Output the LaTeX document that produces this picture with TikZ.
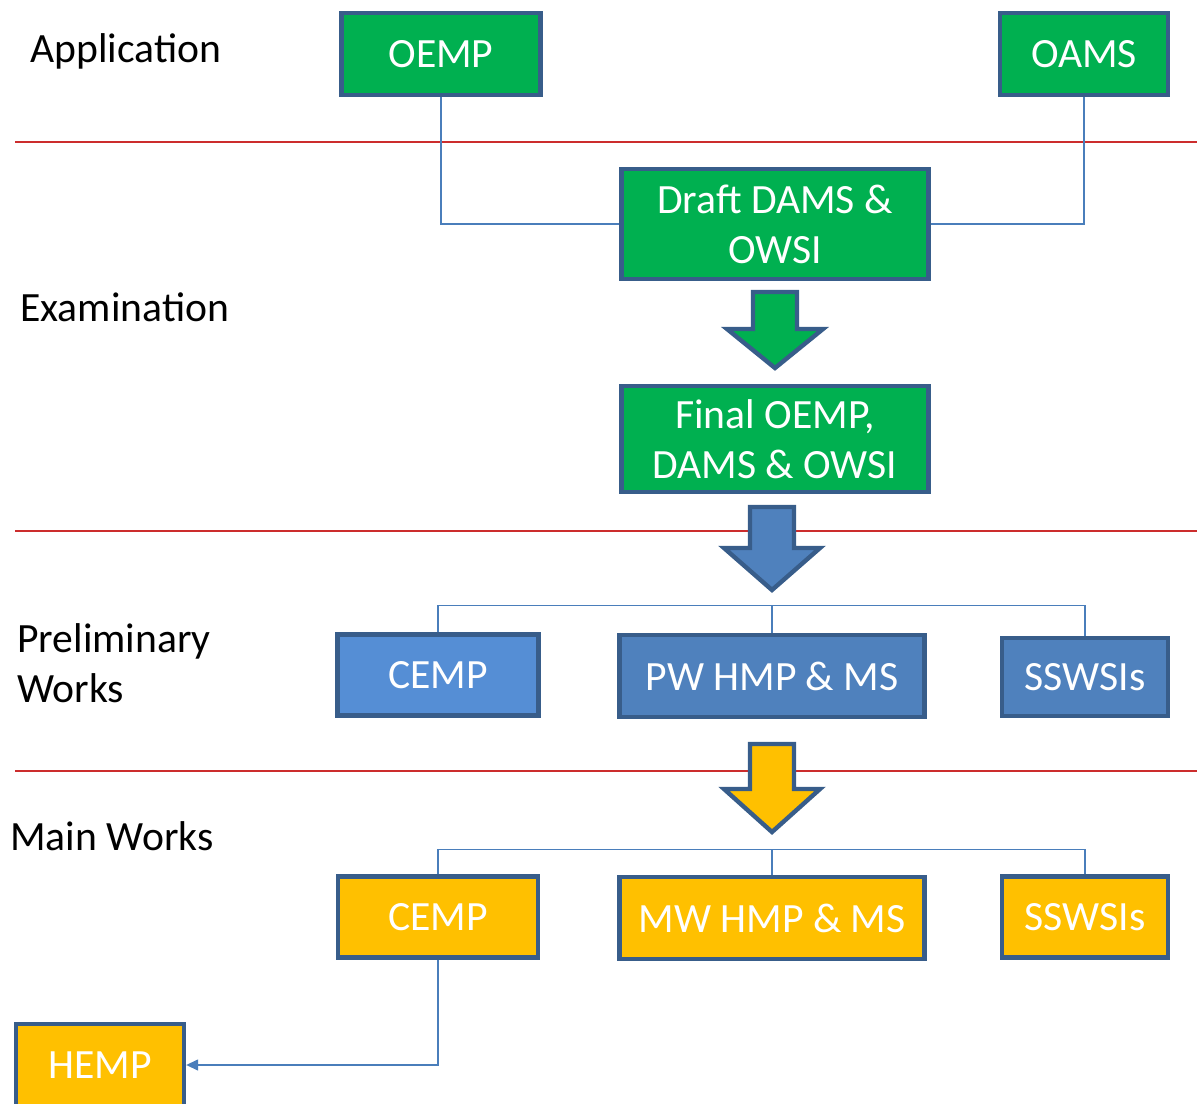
\documentclass[tikz,border=0pt]{standalone}
\usepackage{fontspec}
\setmainfont{Carlito}
\usetikzlibrary{arrows.meta}
\definecolor{boxgreen}{HTML}{00B050}
\definecolor{boxblue}{HTML}{4F81BD}
\definecolor{boxlight}{HTML}{558ED5}
\definecolor{boxyellow}{HTML}{FFC000}
\definecolor{edgeblue}{HTML}{385D8A}
\definecolor{linkblue}{HTML}{4A7EBB}
\definecolor{sepred}{RGB}{204,45,45}

\begin{document}
\begin{tikzpicture}[x=0.02cm,y=-0.02cm,
  every node/.style={font=\fontsize{23.7}{28.5}\selectfont},
  box/.style={draw=edgeblue,line width=2.5pt,text=white,align=center,inner sep=0pt},
  phase/.style={anchor=base west,inner sep=0pt},
  link/.style={draw=linkblue,line width=0.8pt},
  sep/.style={draw=sepred,line width=0.85pt},
  bigarrow/.style={draw=edgeblue,line width=2.5pt,line join=miter}]
\useasboundingbox (0,0) rectangle (1197,1104);

\draw[sep] (15,142) -- (1197,142);
\draw[sep] (15,531) -- (1197,531);
\draw[sep] (15,771) -- (1197,771);

\node[phase] (app) at (30,63) {Application};
\node[phase] (exam) at (20,322) {Examination};
\node[anchor=west,inner sep=0pt,align=left] (prelim) at (17,663) {Preliminary\\Works};
\node[phase] (main) at (10,850) {Main Works};

\node[box,fill=boxgreen,minimum width=3.98cm,minimum height=1.64cm] (oemp) at (441,54) {OEMP};
\node[box,fill=boxgreen,minimum width=3.36cm,minimum height=1.64cm] (oams) at (1084,54) {OAMS};
\node[box,fill=boxgreen,minimum width=6.14cm,minimum height=2.2cm] (draft) at (775,224) {Draft DAMS \&\\OWSI};
\node[box,fill=boxgreen,minimum width=6.14cm,minimum height=2.12cm] (final) at (775,439) {Final OEMP,\\DAMS \& OWSI};

\node[box,fill=boxlight,minimum width=4.02cm,minimum height=1.62cm] (cempa) at (438,675) {CEMP};
\node[box,fill=boxblue,minimum width=6.1cm,minimum height=1.64cm] (pw) at (772,676) {PW HMP \& MS};
\node[box,fill=boxblue,minimum width=3.32cm,minimum height=1.56cm] (swa) at (1085,677) {SSWSIs};

\node[box,fill=boxyellow,minimum width=4.0cm,minimum height=1.62cm] (cempb) at (438,917) {CEMP};
\node[box,fill=boxyellow,minimum width=6.1cm,minimum height=1.64cm] (mw) at (772,918) {MW HMP \& MS};
\node[box,fill=boxyellow,minimum width=3.32cm,minimum height=1.62cm] (swb) at (1085,917) {SSWSIs};

\node[box,fill=boxyellow,minimum width=3.36cm,minimum height=1.64cm] (hemp) at (100,1065) {HEMP};

\draw[link] (oemp.south) |- (draft.west);
\draw[link] (oams.south) |- (draft.east);

\draw[bigarrow,fill=boxgreen] (753,292) -- (797,292) -- (797,329) -- (823,329) -- (775,368)
  -- (727,329) -- (753,329) -- cycle;
\draw[bigarrow,fill=boxblue] (750,507) -- (794,507) -- (794,548) -- (820,548) -- (772,590)
  -- (724,548) -- (750,548) -- cycle;
\draw[bigarrow,fill=boxyellow] (750,744) -- (794,744) -- (794,789) -- (820,789) -- (772,832)
  -- (724,789) -- (750,789) -- cycle;

\draw[link] (cempa.north) -- ++(0,-27) -| (swa.north);
\draw[link] (pw.north) -- ++(0,-27);
\draw[link] (cempb.north) -- ++(0,-25) -| (swb.north);
\draw[link] (mw.north) -- ++(0,-25);

\draw[link,-{Triangle[length=0.24cm,width=0.22cm]}] (cempb.south) |- (hemp.east);
\end{tikzpicture}
\end{document}
